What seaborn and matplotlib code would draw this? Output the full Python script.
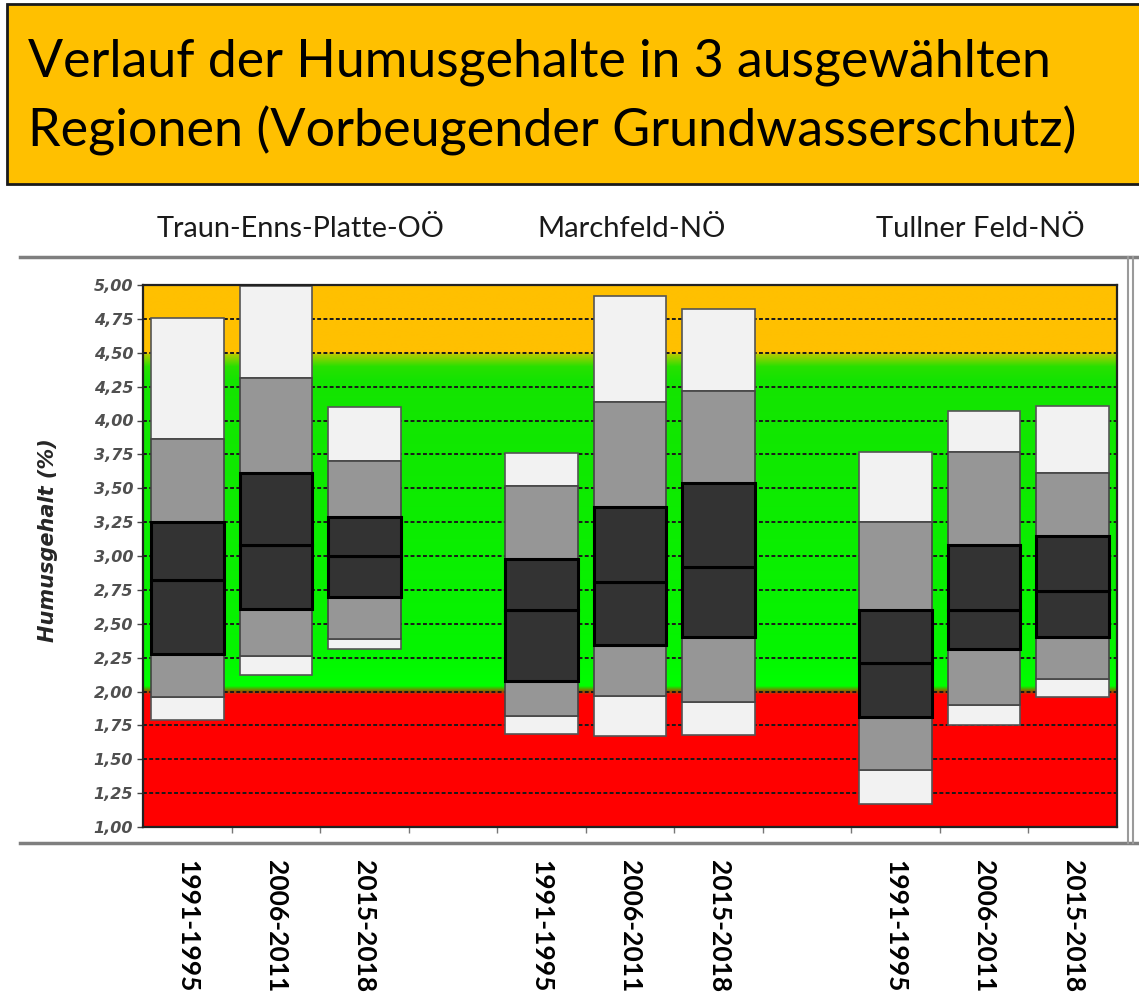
import numpy as np
import pandas as pd
import matplotlib
matplotlib.use("Agg")
import matplotlib.pyplot as plt
import seaborn as sns
from matplotlib.patches import Rectangle
from matplotlib.lines import Line2D

# ---------------- data ----------------
regions = ["Traun-Enns-Platte-OÖ", "Marchfeld-NÖ", "Tullner Feld-NÖ"]
periods = ["1991-1995", "2006-2011", "2015-2018"]
v_min = [1.79, 2.12, 2.31, 1.69, 1.67, 1.68, 1.17, 1.75, 1.96]
v_p10 = [1.96, 2.26, 2.39, 1.82, 1.97, 1.92, 1.42, 1.90, 2.09]
v_p25 = [2.28, 2.61, 2.70, 2.08, 2.34, 2.40, 1.81, 2.31, 2.40]
v_med = [2.82, 3.08, 3.00, 2.60, 2.81, 2.92, 2.21, 2.60, 2.74]
v_p75 = [3.25, 3.61, 3.29, 2.98, 3.36, 3.54, 2.60, 3.08, 3.15]
v_p90 = [3.86, 4.31, 3.70, 3.52, 4.14, 4.22, 3.25, 3.77, 3.61]
v_max = [4.76, 4.99, 4.10, 3.76, 4.92, 4.82, 3.77, 4.07, 4.11]
y_ticks = [1.00, 1.25, 1.50, 1.75, 2.00, 2.25, 2.50, 2.75, 3.00, 3.25,
           3.50, 3.75, 4.00, 4.25, 4.50, 4.75, 5.00]
title_lines = ["Verlauf der Humusgehalte in 3 ausgewählten",
               "Regionen (Vorbeugender Grundwasserschutz)"]
y_label = "Humusgehalt (%)"

# ---------------- figure ----------------
W, H = 1139, 994
fig = plt.figure(figsize=(W / 100, H / 100), dpi=100)
fig.patch.set_facecolor("white")

def fx(px):
    return px / W

def fy(py):
    return 1 - py / H

# title box
fig.add_artist(Rectangle((fx(7), fy(184)), fx(1150), 180 / H, transform=fig.transFigure,
                         facecolor="#FFC000", edgecolor="#1a1a1a", linewidth=2, zorder=0))

renderer = fig.canvas.get_renderer()

def fitted_text(x, y, s, target_w, **kw):
    t = fig.text(x, y, s, fontsize=30, **kw)
    w = t.get_window_extent(renderer).width
    t.set_fontsize(30 * target_w / w)
    return t

fitted_text(fx(28), fy(77), title_lines[0], 1022, family="Lato", color="black", va="baseline")
fitted_text(fx(28), fy(146), title_lines[1], 1050, family="Lato", color="black", va="baseline")

# outer chart frame
frame_kw = dict(transform=fig.transFigure, color="#7f7f7f", linewidth=2.5)
fig.add_artist(Line2D([fx(20), fx(1139)], [fy(257), fy(257)], **frame_kw))
fig.add_artist(Line2D([fx(20), fx(1139)], [fy(843), fy(843)], **frame_kw))
fig.add_artist(Line2D([fx(1128), fx(1128)], [fy(257), fy(843)], transform=fig.transFigure,
                      color="#9a9a9a", linewidth=1.5))
fig.add_artist(Line2D([fx(1133), fx(1133)], [fy(257), fy(843)], transform=fig.transFigure,
                      color="#9a9a9a", linewidth=1.5))

# region labels
for name, cx, tw in zip(regions, [301, 632, 980], [288, 188, 208]):
    fitted_text(fx(cx), fy(229), name, tw, family="Lato", color="#1a1a1a",
                ha="center", va="center")

# axes
ax = fig.add_axes([fx(143), fy(827), fx(1117) - fx(143), (827 - 285) / H])

# background gradient bands
yy = np.linspace(1, 5, 800)
stops_y = [1.00, 1.975, 2.00, 2.04, 2.30, 4.30, 4.40, 4.49, 4.50, 5.00]
stops_c = np.array([
    (255, 0, 0), (255, 0, 0), (150, 90, 0), (0, 255, 0), (5, 245, 0),
    (20, 228, 0), (40, 224, 0), (175, 205, 0), (255, 192, 0), (255, 192, 0)]) / 255
img = np.stack([np.interp(yy, stops_y, stops_c[:, i]) for i in range(3)], axis=-1)
img = np.repeat(img[:, None, :], 2, axis=1)
ax.imshow(img, extent=(-0.5, 10.5, 1, 5), aspect="auto", origin="lower",
          zorder=0, interpolation="bilinear")

# grid lines
for v in y_ticks[1:-1]:
    ax.axhline(v, color="#1a1a1a", linewidth=1.4, linestyle=(0, (2.0, 1.2)), zorder=1)

# bars
keys = [f"{r} {p}" for r in regions for p in periods]
order = keys[0:3] + ["gap1"] + keys[3:6] + ["gap2"] + keys[6:9]

light, gray, dark = "#F2F2F2", "#969696", "#333333"
layers = [
    (v_min, v_p10, light, "#555555", 1.2, 2),
    (v_p90, v_max, light, "#555555", 1.2, 2),
    (v_p10, v_p25, gray, "#444444", 1.2, 2),
    (v_p75, v_p90, gray, "#444444", 1.2, 2),
    (v_p25, v_med, dark, "#000000", 2.2, 3),
    (v_med, v_p75, dark, "#000000", 2.2, 3),
]
for lo, hi, fc, ec, lw, z in layers:
    df = pd.DataFrame({"key": keys, "height": np.array(hi) - np.array(lo)})
    sns.barplot(data=df, x="key", y="height", order=order, ax=ax, bottom=np.array(lo),
                color=fc, saturation=1, errorbar=None, width=0.82,
                edgecolor=ec, linewidth=lw, zorder=z)

ax.set_xlim(-0.5, 10.5)
ax.set_ylim(1, 5)
ax.set_xlabel("")
ax.set_ylabel("")

# y axis
ax.set_yticks(y_ticks)
ax.set_yticklabels([f"{v:.2f}".replace(".", ",") for v in y_ticks],
                   fontsize=11.5, fontweight="bold", fontstyle="italic",
                   family="DejaVu Sans", color="#505050")
ax.tick_params(axis="y", length=4, width=1, color="#444444", pad=3)

# x axis
xlabels = periods + [""] + periods + [""] + periods
ax.set_xticks(range(len(order)))
ax.set_xticklabels(xlabels, rotation=270, fontsize=19, fontweight="bold",
                   family="Lato", color="black", va="top", ha="center")
ax.set_xticks(np.arange(0.5, 10.0, 1.0), minor=True)
ax.tick_params(axis="x", which="major", length=0, pad=24)
ax.tick_params(axis="x", which="minor", length=4, width=1, color="#777777")

for sp in ax.spines.values():
    sp.set_visible(True)
    sp.set_color("#222222")
    sp.set_linewidth(1.6)
    sp.set_zorder(5)

fig.text(fx(48), fy(540), y_label, rotation=90, ha="center", va="center",
         fontsize=15, fontweight="bold", fontstyle="italic", family="DejaVu Sans",
         color="#262626")

fig.savefig("out.png", dpi=100)
